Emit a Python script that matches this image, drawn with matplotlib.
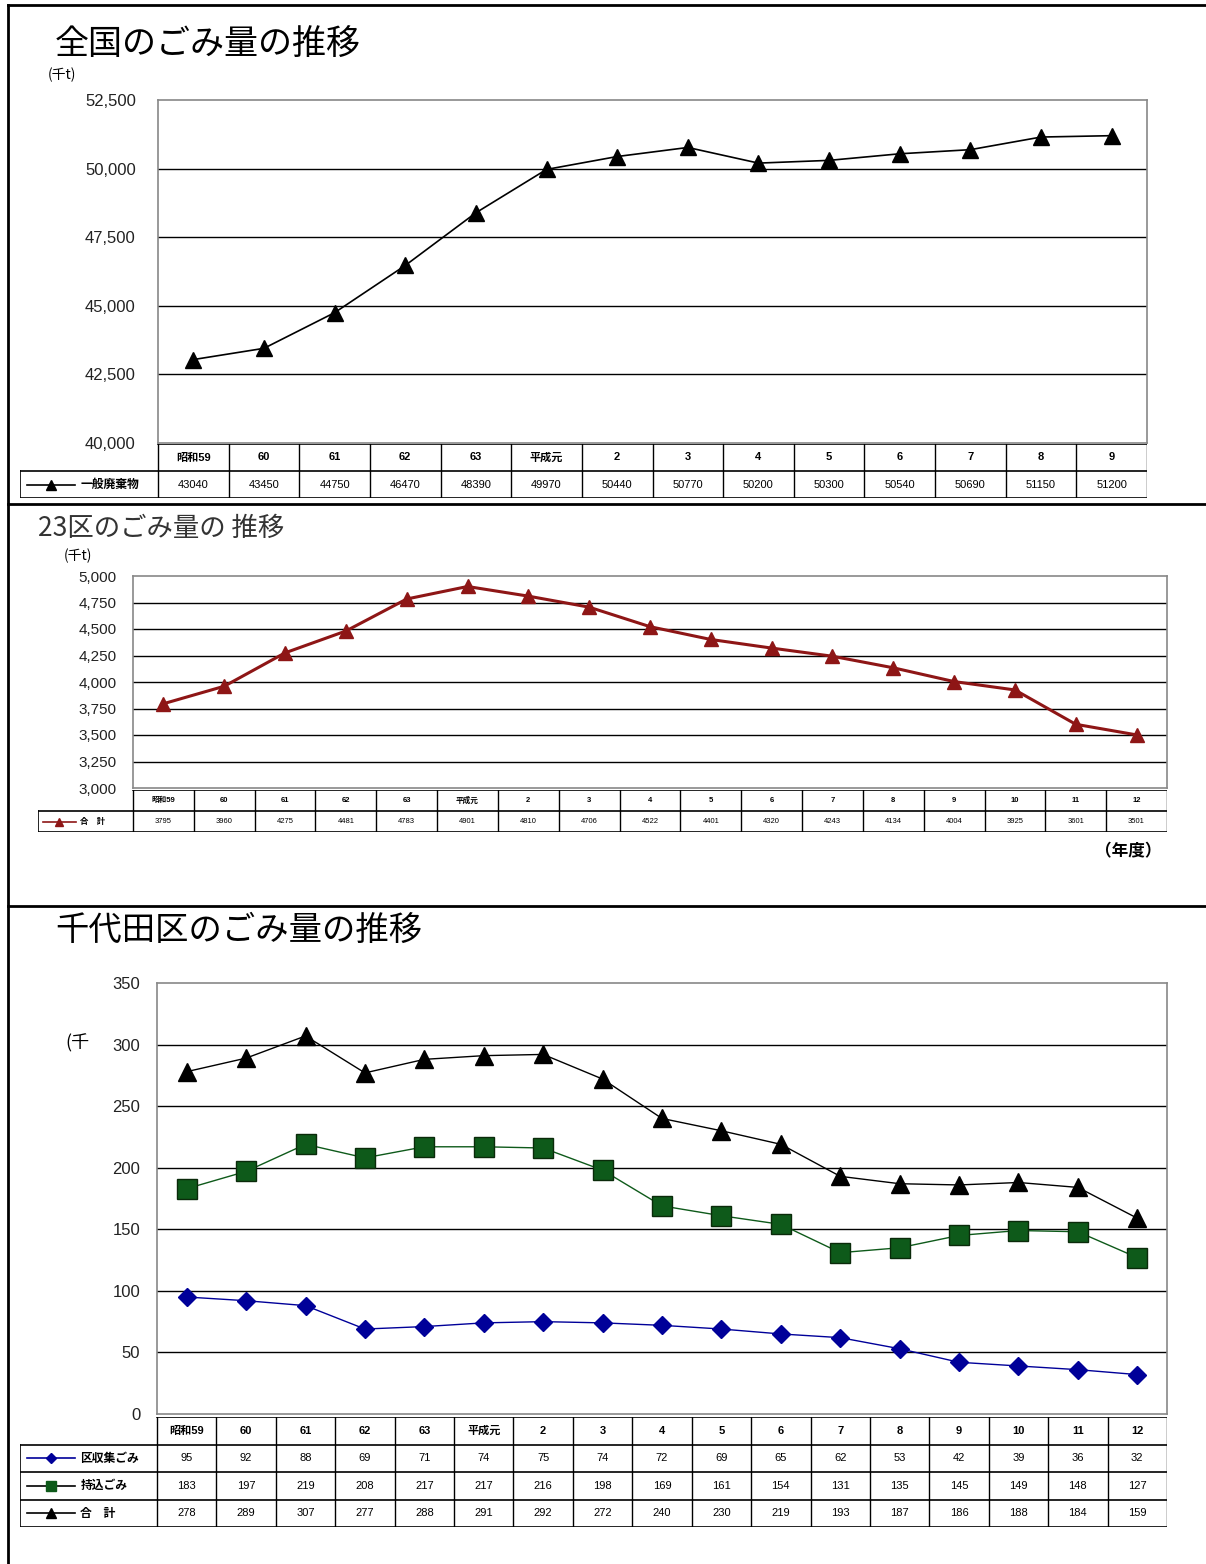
# -*- coding: utf-8 -*-
"""Waste amount trends: nation, 23 wards, Chiyoda ward."""
import matplotlib
matplotlib.use('Agg')
# pylint: disable=wrong-import-position
import matplotlib.pyplot as plt
from matplotlib.lines import Line2D

plt.rcParams['font.family'] = ['Noto Sans CJK JP', 'DejaVu Sans']

W, H = 1206, 1564

# --- data -----------------------------------------------------------------
nat_years = ['昭和59', '60', '61', '62', '63', '平成元', '2', '3', '4', '5',
             '6', '7', '8', '9']
nat_waste = [43040, 43450, 44750, 46470, 48390, 49970, 50440, 50770, 50200,
             50300, 50540, 50690, 51150, 51200]

ku_years = ['昭和59', '60', '61', '62', '63', '平成元', '2', '3', '4', '5',
            '6', '7', '8', '9', '10', '11', '12']
ku_total = [3795, 3960, 4275, 4481, 4783, 4901, 4810, 4706, 4522, 4401, 4320,
            4243, 4134, 4004, 3925, 3601, 3501]

cy_years = ku_years
cy_collected = [95, 92, 88, 69, 71, 74, 75, 74, 72, 69, 65, 62, 53, 42, 39,
                36, 32]
cy_brought = [183, 197, 219, 208, 217, 217, 216, 198, 169, 161, 154, 131, 135,
              145, 149, 148, 127]
cy_total = [278, 289, 307, 277, 288, 291, 292, 272, 240, 230, 219, 193, 187,
            186, 188, 184, 159]

NUM_FONT = ['Liberation Sans', 'Noto Sans CJK JP']


def px_rect(left, top, right, bottom):
    """Pixel box -> figure fraction rect."""
    return [left / W, 1 - bottom / H, (right - left) / W, (bottom - top) / H]


def fig_text(fig, x, y, s, **kw):
    """Text placed in pixel coordinates."""
    fig.text(x / W, 1 - y / H, s, **kw)


def fig_line(fig, x0, y0, x1, y1, lw=2.0):
    """Line in pixel coordinates."""
    fig.add_artist(Line2D([x0 / W, x1 / W], [1 - y0 / H, 1 - y1 / H],
                          transform=fig.transFigure, color='black', lw=lw))


def make_plot(fig, box, years, ticks, tick_fs, pad=12):
    """Plot axes with black horizontal grid."""
    ax = fig.add_axes(px_rect(*box))
    ax.set_xlim(-0.5, len(years) - 0.5)
    ax.set_ylim(ticks[0], ticks[-1])
    ax.set_yticks(ticks)
    ax.set_yticklabels(['{:,}'.format(t) for t in ticks], fontsize=tick_fs,
                       family=NUM_FONT, color='#222222')
    ax.set_xticks([])
    ax.tick_params(axis='y', length=0, pad=pad)
    for t in ticks[1:-1]:
        ax.axhline(t, color='black', lw=1.0, zorder=1)
    for sp in ax.spines.values():
        sp.set_color('#888888')
        sp.set_linewidth(1.2)
    return ax


def make_table(fig, left, plot_left, right, top, bottom, years, rows,
               font_size):
    """Data table drawn under the plot; rows = (label, values, style)."""
    n = len(years)
    nrows = len(rows) + 1
    col_w = (right - plot_left) / n
    lab_w = (plot_left - left) / col_w
    ax = fig.add_axes(px_rect(left, top, right, bottom))
    ax.set_xlim(-0.5 - lab_w, n - 0.5)
    ax.set_ylim(nrows, 0)
    ax.axis('off')
    # grid of the table
    ax.plot([-0.5, n - 0.5], [0, 0], color='black', lw=1.2)
    for r in range(1, nrows + 1):
        ax.plot([-0.5 - lab_w, n - 0.5], [r, r], color='black', lw=1.2)
    for c in range(n + 1):
        ax.plot([c - 0.5, c - 0.5], [0, nrows], color='black', lw=1.0)
    ax.plot([-0.5 - lab_w, -0.5 - lab_w], [1, nrows], color='black', lw=1.2)
    for i, y in enumerate(years):
        ax.text(i, 0.5, y, ha='center', va='center', fontsize=font_size,
                family=NUM_FONT, fontweight='bold')
    for r, (label, values, style) in enumerate(rows, start=1):
        for i, v in enumerate(values):
            ax.text(i, r + 0.5, str(v), ha='center', va='center',
                    fontsize=font_size, family=NUM_FONT)
        x0 = -0.5 - lab_w + 0.05 * lab_w
        x1 = x0 + 0.35 * lab_w
        ax.plot([x0, x1], [r + 0.5, r + 0.5], color=style['color'], lw=1.2)
        ax.plot([(x0 + x1) / 2], [r + 0.5], marker=style['marker'],
                color=style['mfc'], mec=style['mec'],
                markersize=style['ms'] * 0.6, lw=0)
        ax.text(x1 + 0.04 * lab_w, r + 0.5, label, ha='left', va='center',
                fontsize=font_size + 0.5, fontweight='bold')
    return ax


def main():
    """main."""
    fig = plt.figure(figsize=(W / 100, H / 100), dpi=100)

    # frame lines
    fig_line(fig, 8, 5, W, 5)
    fig_line(fig, 8, 5, 8, H)
    fig_line(fig, 8, 504, W, 504)
    fig_line(fig, 8, 906, W, 906)

    # ---- national ----
    fig_text(fig, 55, 45, '全国のごみ量の推移', fontsize=24.5, va='center')
    fig_text(fig, 48, 75, '(千t)', fontsize=10, va='center')
    ax1 = make_plot(fig, (158, 100, 1147, 443), nat_years,
                    [40000, 42500, 45000, 47500, 50000, 52500], 12, pad=16)
    tri_k = {'color': 'black', 'marker': '^', 'mfc': 'black', 'mec': 'black',
             'ms': 12}
    ax1.plot(range(len(nat_years)), nat_waste, color='black', lw=1.2,
             marker='^', markersize=12, zorder=3)
    make_table(fig, 20, 158, 1147, 444, 498, nat_years,
               [('一般廃棄物', nat_waste, tri_k)], 8)

    # ---- 23 wards ----
    fig_text(fig, 38, 528, '23区のごみ量の 推移', fontsize=19, va='center',
             color='#333333')
    fig_text(fig, 64, 556, '(千t)', fontsize=10, va='center')
    ax2 = make_plot(fig, (133, 576, 1167, 788), ku_years,
                    list(range(3000, 5001, 250)), 11)
    red = '#8e1616'
    ax2.plot(range(len(ku_years)), ku_total, color=red, lw=2.2,
             marker='^', markersize=10, zorder=3)
    make_table(fig, 38, 133, 1167, 790, 832, ku_years,
               [('合　計', ku_total,
                 {'color': red, 'marker': '^', 'mfc': red, 'mec': red,
                  'ms': 10})], 5.5)
    fig_text(fig, 1162, 851, '（年度）', fontsize=12, va='center', ha='right',
             fontweight='bold')

    # ---- Chiyoda ----
    fig_text(fig, 55, 930, '千代田区のごみ量の推移', fontsize=24,
             va='center')
    fig_text(fig, 65, 1043, '(千', fontsize=13, va='center')
    ax3 = make_plot(fig, (157, 983, 1167, 1414), cy_years,
                    list(range(0, 351, 50)), 12)
    blue = '#000099'
    green = '#0e5a1a'
    xs = range(len(cy_years))
    ax3.plot(xs, cy_collected, color=blue, lw=1.0, marker='D',
             markersize=9, zorder=3)
    ax3.plot(xs, cy_brought, color=green, lw=1.0, marker='s',
             markersize=14, mec='#0a2a0a', zorder=3)
    ax3.plot(xs, cy_total, color='black', lw=1.0, marker='^',
             markersize=13, zorder=3)
    make_table(fig, 20, 157, 1167, 1417, 1527, cy_years,
               [('区収集ごみ', cy_collected,
                 {'color': blue, 'marker': 'D', 'mfc': blue, 'mec': blue,
                  'ms': 9}),
                ('持込ごみ', cy_brought,
                 {'color': 'black', 'marker': 's', 'mfc': green,
                  'mec': green, 'ms': 11}),
                ('合　計', cy_total,
                 {'color': 'black', 'marker': '^', 'mfc': 'black',
                  'mec': 'black', 'ms': 11})], 8)

    fig.savefig('out.png', dpi=100)


if __name__ == '__main__':
    main()

# EOF
